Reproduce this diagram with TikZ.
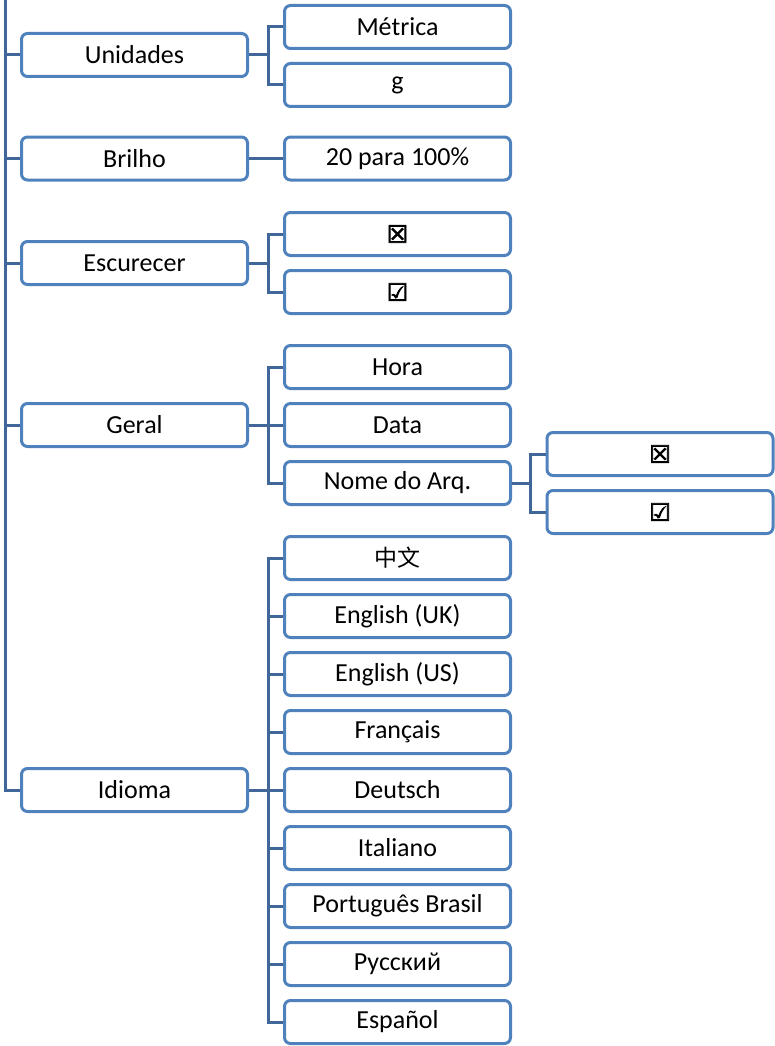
\documentclass[tikz,border=0pt]{standalone}
\usepackage{fontspec}
\setmainfont{Carlito}
\newfontfamily\symfont[FakeBold=3]{DejaVu Sans}
\newfontfamily\cjkfont{Noto Sans CJK SC}
\definecolor{boxblue}{RGB}{79,129,189}
\definecolor{linkblue}{RGB}{64,102,154}
\newcommand\boxx{{\symfont\fontsize{24}{28}\selectfont ☒}}
\newcommand\boxv{{\symfont\fontsize{24}{28}\selectfont ☑}}
\begin{document}
\begin{tikzpicture}[x=1pt,y=-1pt,
  item/.style={draw=boxblue, line width=3pt, fill=white, rounded corners=6pt,
    minimum width=226pt, minimum height=43pt, inner sep=0pt,
    font=\fontsize{26}{30}\selectfont, text=black},
  link/.style={draw=linkblue, line width=3pt, line join=miter}]
\useasboundingbox (0,0) rectangle (775,1046);
% left column
\node[item] (U) at (134.5,55) {Unidades};
\node[item] (B) at (134.5,158.5) {Brilho};
\node[item] (E) at (134.5,263) {Escurecer};
\node[item] (G) at (134.5,425) {Geral};
\node[item] (I) at (134.5,790) {Idioma};
% right column
\node[item] (M) at (397.5,27) {Métrica};
\node[item] (g) at (397.5,85) {g};
\node[item] (P) at (397.5,158.5) {20 para 100\%};
\node[item] (X1) at (397.5,234) {\boxx};
\node[item] (C1) at (397.5,292) {\boxv};
\node[item] (H) at (397.5,367) {Hora};
\node[item] (D) at (397.5,425) {Data};
\node[item] (N) at (397.5,483) {Nome do Arq.};
\node[item] (zh) at (397.5,558) {\cjkfont\fontsize{23}{28}\selectfont 中文};
\node[item] (uk) at (397.5,616) {English (UK)};
\node[item] (us) at (397.5,674) {English (US)};
\node[item] (fr) at (397.5,732) {Français};
\node[item] (de) at (397.5,790) {Deutsch};
\node[item] (it) at (397.5,848) {Italiano};
\node[item] (pt) at (397.5,906) {Português Brasil};
\node[item] (ru) at (397.5,964) {Русский};
\node[item] (es) at (397.5,1022) {Español};
% sub column
\node[item] (X2) at (660,454) {\boxx};
\node[item] (C2) at (660,512) {\boxv};
% main trunk
\coordinate (top) at (5,-3);
\draw[link] (top) |- (I.west);
\foreach \n in {U,B,E,G} \draw[link] (top |- \n.west) -- (\n.west);
% forks
\foreach \p/\c in {U/M,U/g,E/X1,E/C1,G/H,G/D,G/N,I/zh,I/uk,I/us,I/fr,I/de,I/it,I/pt,I/ru,I/es}
  \draw[link] (\p.east) -- ++(19,0) |- (\c.west);
\draw[link] (B.east) -- (P.west);
\foreach \c in {X2,C2} \draw[link] (N.east) -- ++(18,0) |- (\c.west);
\end{tikzpicture}
\end{document}
